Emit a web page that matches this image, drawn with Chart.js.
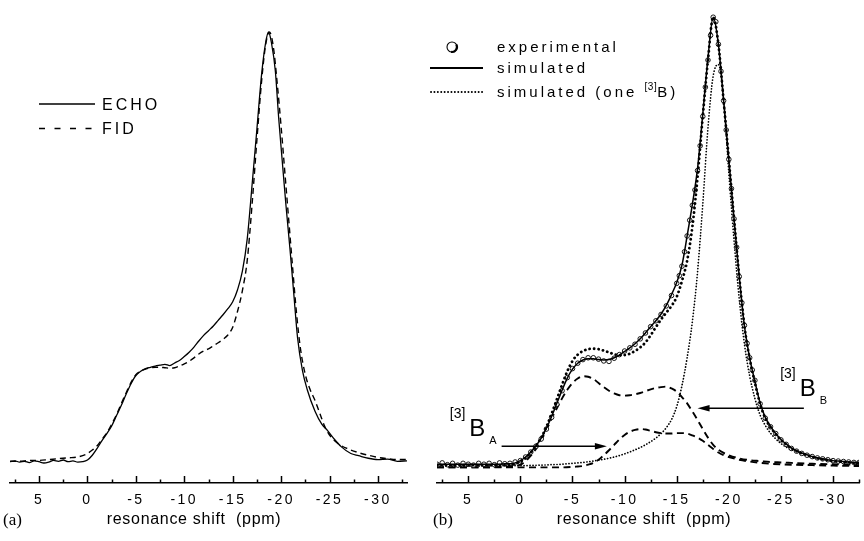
<!DOCTYPE html>
<html><head><meta charset="utf-8">
<script src="https://cdn.jsdelivr.net/npm/chart.js@4.4.1/dist/chart.umd.min.js"></script>
<style>
html,body{margin:0;padding:0;background:#fff;}
#wrap{position:relative;width:864px;height:541px;overflow:hidden;background:#fff;}
#ca{position:absolute;left:0;top:0;}
#cb{position:absolute;left:432px;top:0;}
#ov{position:absolute;left:0;top:0;pointer-events:none;}
</style></head><body>
<div id="wrap">
<canvas id="ca" width="432" height="541"></canvas>
<canvas id="cb" width="432" height="541"></canvas>
<svg id="ov" width="864" height="541" xmlns="http://www.w3.org/2000/svg" font-family="'Liberation Sans', Arial, sans-serif" fill="#000">
  <!-- legend (a) -->
  <line x1="39" y1="104" x2="95" y2="104" stroke="#000" stroke-width="1.3"/>
  <text x="102" y="110" font-size="16" letter-spacing="3">ECHO</text>
  <line x1="39" y1="128.5" x2="95" y2="128.5" stroke="#000" stroke-width="1.6" stroke-dasharray="6,9.5"/>
  <text x="102" y="134" font-size="16" letter-spacing="3">FID</text>
  <!-- legend (b) -->
  <circle cx="452" cy="47" r="5" fill="#fff" stroke="#000" stroke-width="1.1"/>
  <path d="M 456.3 44.5 A 5 5 0 0 1 451.1 51.9" fill="none" stroke="#000" stroke-width="2.2"/>
  <text x="497" y="52" font-size="15" letter-spacing="3">experimental</text>
  <line x1="430" y1="68" x2="483" y2="68" stroke="#000" stroke-width="2"/>
  <text x="497" y="73" font-size="15" letter-spacing="3">simulated</text>
  <line x1="431" y1="92" x2="483" y2="92" stroke="#000" stroke-width="1.9" stroke-dasharray="0.1,3.3" stroke-linecap="round"/>
  <text x="497" y="97" font-size="15" letter-spacing="3">simulated (one <tspan font-size="10" dy="-7" letter-spacing="0.5">[3]</tspan><tspan dy="7">B)</tspan></text>
  <!-- axis titles -->
  <text x="194" y="524" font-size="16" letter-spacing="0.7" text-anchor="middle" xml:space="preserve">resonance shift  (ppm)</text>
  <text x="644" y="524" font-size="16" letter-spacing="0.7" text-anchor="middle" xml:space="preserve">resonance shift  (ppm)</text>
  <text x="3" y="525" font-size="17" font-family="'Liberation Serif', 'Times New Roman', serif">(a)</text>
  <text x="433" y="525" font-size="17" font-family="'Liberation Serif', 'Times New Roman', serif">(b)</text>
</svg>
</div>
<script>
// ---------- axis ticks ----------
const TICKS_MAJOR = [5, 0, -5, -10, -15, -20, -25, -30];
const TICKS_MINOR = [7.5, 2.5, -2.5, -7.5, -12.5, -17.5, -22.5, -27.5, -32.5];

// ---------- panel (a) ----------
const PPM_ECHO = [8,7.5,7,6.5,6,5.5,5,4.5,4,3.5,3,2.5,2,1.5,1,0.5,0,-0.5,-1,-1.5,-2,-2.5,-3,-3.5,-4,-4.5,-5,-5.5,-6,-6.5,-7,-7.5,-8,-8.5,-9,-9.5,-10,-10.5,-11,-11.5,-12,-12.5,-13,-13.5,-14,-14.5,-15,-15.5,-16,-16.5,-17,-17.5,-18,-18.4,-18.7,-19,-19.4,-19.75,-20.1,-20.5,-20.9,-21.3,-21.7,-22.2,-22.7,-23.5,-24.2,-24.8,-25.5,-26.2,-27.2,-28,-29,-30,-31,-32,-33];
const ECHO = [0.003,0.005,0.002,0.004,0.001,0.005,0.003,0.000,0.002,0.006,0.004,0.007,0.003,0.005,0.002,0.003,0.007,0.018,0.034,0.052,0.068,0.086,0.110,0.134,0.160,0.184,0.203,0.213,0.219,0.222,0.225,0.227,0.229,0.226,0.232,0.238,0.247,0.257,0.269,0.283,0.296,0.307,0.318,0.331,0.344,0.358,0.374,0.402,0.445,0.520,0.645,0.775,0.905,0.975,1.000,0.975,0.910,0.800,0.705,0.598,0.500,0.395,0.290,0.215,0.170,0.120,0.090,0.075,0.055,0.038,0.022,0.017,0.011,0.008,0.009,0.004,0.005];
const PPM_FID = [8,7,6,5,4,3,2,1,0,-0.5,-1,-1.5,-2,-2.5,-3,-3.5,-4,-4.5,-5,-5.5,-6,-6.5,-7,-7.5,-8,-8.5,-9,-9.5,-10,-10.5,-11,-11.5,-12,-12.5,-13,-13.5,-14,-14.5,-15,-15.5,-16,-16.5,-17,-17.5,-18,-18.4,-18.8,-19.2,-19.6,-20,-20.4,-20.8,-21.2,-21.6,-22,-22.5,-23,-23.5,-24,-24.5,-25,-25.5,-26,-27,-28,-29,-30,-31,-32,-33];
const FID = [0.004,0.004,0.006,0.006,0.008,0.010,0.012,0.014,0.022,0.030,0.040,0.055,0.070,0.090,0.112,0.138,0.163,0.187,0.205,0.213,0.218,0.221,0.222,0.222,0.221,0.220,0.221,0.225,0.230,0.236,0.244,0.253,0.260,0.265,0.272,0.279,0.287,0.297,0.315,0.352,0.400,0.470,0.600,0.750,0.890,0.970,1.000,0.965,0.880,0.780,0.670,0.560,0.450,0.345,0.265,0.205,0.170,0.145,0.115,0.085,0.065,0.052,0.043,0.032,0.024,0.018,0.013,0.010,0.008,0.008];

// ---------- panel (b) ----------
const PPM_EXP = [8,7.5,7,6.5,6,5.5,5,4.5,4,3.5,3,2.5,2,1.5,1,0.5,0,-0.5,-1,-1.5,-2,-2.5,-3,-3.5,-4,-4.5,-5,-5.5,-6,-6.5,-7,-7.5,-8,-8.5,-9,-9.5,-10,-10.5,-11,-11.5,-12,-12.5,-13,-13.5,-14,-14.5,-15,
  -15.25,-15.5,-15.75,-16,-16.25,-16.5,-16.75,-17,-17.25,-17.5,-17.75,-18,-18.25,-18.5,-18.75,-19,-19.25,-19.5,-19.75,-20,-20.25,-20.5,-20.75,-21,-21.25,-21.5,-21.75,-22,-22.25,-22.5,
  -23,-23.5,-24,-24.5,-25,-25.5,-26,-26.5,-27,-27.5,-28,-28.5,-29,-29.5,-30,-30.5,-31,-31.5,-32,-32.5];
const EXP = [0.004,0.007,0.003,0.006,0.002,0.006,0.004,0.002,0.006,0.004,0.006,0.003,0.007,0.005,0.006,0.009,0.012,0.020,0.031,0.044,0.060,0.082,0.108,0.137,0.167,0.196,0.216,0.228,0.236,0.240,0.240,0.237,0.233,0.232,0.239,0.247,0.255,0.262,0.270,0.282,0.295,0.309,0.322,0.336,0.355,0.378,0.405,
  0.422,0.443,0.475,0.510,0.545,0.578,0.612,0.655,0.710,0.775,0.840,0.900,0.955,0.995,0.985,0.935,0.875,0.810,0.745,0.680,0.615,0.548,0.485,0.420,0.362,0.312,0.272,0.240,0.213,0.190,
  0.138,0.106,0.087,0.072,0.058,0.048,0.039,0.033,0.028,0.024,0.021,0.018,0.016,0.014,0.012,0.011,0.010,0.009,0.008,0.008];
const PPM_FIT = [8,7.5,7,6.5,6,5.5,5,4.5,4,3.5,3,2.5,2,1.5,1,0.5,0,-0.5,-1,-1.5,-2,-2.5,-3,-3.5,-4,-4.5,-5,-5.5,-6,-6.5,-7,-7.5,-8,-8.5,-9,-9.5,-10,-10.5,-11,-11.5,-12,-12.5,-13,-13.5,-14,-14.5,-15,-15.5,-16,-16.5,-17,-17.5,-18,-18.5,-19,-19.5,-20,-20.5,-21,-21.5,-22,-22.5,-23,-23.5,-24,-24.5,-25,-25.5,-26,-26.5,-27,-27.5,-28,-28.5,-29,-29.5,-30,-30.5,-31,-31.5,-32,-32.5];
const SIM = [0.004,0.004,0.004,0.004,0.004,0.004,0.004,0.004,0.004,0.004,0.004,0.004,0.004,0.005,0.005,0.007,0.012,0.020,0.031,0.045,0.062,0.084,0.110,0.139,0.168,0.195,0.215,0.228,0.235,0.238,0.238,0.236,0.235,0.236,0.240,0.246,0.254,0.262,0.271,0.282,0.295,0.309,0.322,0.337,0.356,0.380,0.407,0.445,0.510,0.580,0.660,0.780,0.905,0.995,0.935,0.810,0.680,0.548,0.420,0.310,0.240,0.188,0.140,0.108,0.088,0.072,0.059,0.049,0.040,0.034,0.029,0.025,0.021,0.018,0.016,0.014,0.012,0.011,0.010,0.009,0.008,0.008];
const ONE_3B = [0.002,0.002,0.002,0.002,0.002,0.002,0.002,0.002,0.002,0.002,0.002,0.002,0.002,0.002,0.002,0.005,0.010,0.018,0.030,0.045,0.063,0.087,0.116,0.148,0.180,0.210,0.233,0.247,0.255,0.259,0.260,0.259,0.256,0.252,0.248,0.246,0.246,0.249,0.255,0.263,0.274,0.290,0.308,0.325,0.340,0.355,0.375,0.410,0.455,0.530,0.640,0.775,0.900,0.995,0.935,0.810,0.680,0.548,0.420,0.310,0.238,0.185,0.138,0.106,0.086,0.071,0.058,0.048,0.039,0.033,0.028,0.024,0.020,0.017,0.015,0.013,0.011,0.010,0.009,0.008,0.007,0.007];
const PPM_SITE_B = [8,6,4,2,0,-2,-3,-4,-5,-6,-7,-8,-9,-10,-11,-12,-13,-13.5,-14,-14.5,-15,-15.5,-16,-16.5,-17,-17.5,-18,-18.5,-19,-19.5,-20,-20.5,-21,-21.5,-22,-22.5,-23,-23.5,-24,-25,-26,-27,-28,-29,-30,-31,-32.5];
const SITE_B = [0.000,0.000,0.000,0.001,0.001,0.002,0.003,0.004,0.006,0.008,0.011,0.015,0.020,0.027,0.036,0.047,0.062,0.072,0.085,0.103,0.132,0.178,0.240,0.320,0.430,0.580,0.750,0.865,0.890,0.815,0.650,0.500,0.370,0.270,0.200,0.150,0.113,0.090,0.073,0.050,0.036,0.027,0.020,0.015,0.012,0.009,0.006];
const PPM_SITE_A1 = [8,6,4,2,1,0.5,0,-0.5,-1,-1.5,-2,-2.5,-3,-3.5,-4,-4.5,-5,-5.5,-6,-6.5,-7,-7.5,-8,-8.5,-9,-9.5,-10,-10.5,-11,-11.5,-12,-12.5,-13,-13.5,-14,-14.5,-15,-15.5,-16,-16.5,-17,-17.5,-18,-18.5,-19,-19.5,-20,-21,-22,-23,-24,-25,-26,-28,-30,-32.5];
const SITE_A1 = [-0.003,-0.003,-0.003,-0.002,-0.001,0.000,0.003,0.011,0.023,0.038,0.057,0.080,0.105,0.128,0.150,0.169,0.184,0.194,0.199,0.198,0.193,0.184,0.175,0.167,0.161,0.157,0.156,0.157,0.159,0.162,0.166,0.170,0.173,0.175,0.176,0.172,0.165,0.153,0.139,0.121,0.102,0.082,0.063,0.047,0.036,0.029,0.024,0.017,0.013,0.011,0.009,0.008,0.007,0.005,0.004,0.003];
const PPM_SITE_A2 = [8,6,4,2,0,-2,-4,-5,-5.5,-6,-6.5,-7,-7.5,-8,-8.5,-9,-9.5,-10,-10.5,-11,-11.5,-12,-12.5,-13,-13.5,-14,-14.5,-15,-15.5,-16,-16.5,-17,-17.5,-18,-18.5,-19,-19.5,-20,-21,-22,-23,-24,-26,-28,-30,-32.5];
const SITE_A2 = [-0.003,-0.003,-0.003,-0.003,-0.003,-0.003,-0.003,-0.002,-0.001,0.000,0.003,0.007,0.014,0.024,0.035,0.047,0.059,0.069,0.076,0.080,0.082,0.081,0.078,0.075,0.073,0.072,0.072,0.073,0.073,0.072,0.068,0.063,0.056,0.047,0.038,0.030,0.024,0.020,0.014,0.010,0.007,0.005,0.003,0.002,0.001,0.000];

// annotations of panel (b): arrows [fromPpm, toPpm, intensity] and labels
const ARROWS_B = [[1.8, -8.3, 0.044], [-27.2, -17.0, 0.128]];
const LABELS_B = [{x: 4.9, y: 0.066, sup: '[3]', main: 'B', sub: 'A'}, {x: -26.8, y: 0.155, sup: '[3]', main: 'B', sub: 'B'}];

const FONT = "'Liberation Sans', Arial, sans-serif";
const pts = (xs, ys) => xs.map((x, i) => ({x, y: ys[i]}));

const inwardTicks = {
  id: 'inwardTicks',
  beforeDraw(chart) { chart.ctx.letterSpacing = '2.5px'; },
  afterDraw(chart) {
    const ctx = chart.ctx, sx = chart.scales.x, y0 = chart.chartArea.bottom;
    ctx.save();
    ctx.letterSpacing = '0px';
    ctx.strokeStyle = '#000'; ctx.lineWidth = 1.5;
    const tick = (v, len) => { const p = Math.round(sx.getPixelForValue(v)) + 0.5; ctx.beginPath(); ctx.moveTo(p, y0); ctx.lineTo(p, y0 - len); ctx.stroke(); };
    TICKS_MAJOR.forEach(v => tick(v, 7));
    TICKS_MINOR.forEach(v => tick(v, 3.5));
    ctx.restore();
  }
};

const annotB = {
  id: 'annotB',
  afterDatasetsDraw(chart) {
    const ctx = chart.ctx, sx = chart.scales.x, sy = chart.scales.y;
    ctx.save();
    ctx.letterSpacing = '0px';
    ctx.strokeStyle = '#000'; ctx.fillStyle = '#000'; ctx.lineWidth = 1.5;
    ARROWS_B.forEach(([a, b, v]) => {
      const x1 = sx.getPixelForValue(a), x2 = sx.getPixelForValue(b), y = sy.getPixelForValue(v);
      const dir = Math.sign(x2 - x1);
      ctx.beginPath(); ctx.moveTo(x1, y); ctx.lineTo(x2 - dir * 8, y); ctx.stroke();
      ctx.beginPath(); ctx.moveTo(x2, y); ctx.lineTo(x2 - dir * 12, y - 3.2); ctx.lineTo(x2 - dir * 12, y + 3.2); ctx.closePath(); ctx.fill();
    });
    ctx.textBaseline = 'alphabetic';
    LABELS_B.forEach(l => {
      const px = sx.getPixelForValue(l.x), py = sy.getPixelForValue(l.y);
      ctx.font = '24px ' + FONT; ctx.textAlign = 'left';
      ctx.fillText(l.main, px, py);
      const w = ctx.measureText(l.main).width;
      ctx.font = '14px ' + FONT; ctx.textAlign = 'right';
      ctx.fillText(l.sup, px - 4, py - 18);
      ctx.font = '11px ' + FONT; ctx.textAlign = 'left';
      ctx.fillText(l.sub, px + w + 4, py + 7.5);
    });
    ctx.restore();
  }
};

function xScale(min, max) {
  return {
    type: 'linear', reverse: true, min, max,
    afterFit(s) { s.height = 58; },
    grid: {display: false, drawTicks: false, drawOnChartArea: false},
    border: {display: true, color: '#000', width: 1.6},
    ticks: {stepSize: 5, includeBounds: false, autoSkip: false, maxRotation: 0, padding: 9, color: '#000',
      font: {family: FONT, size: 14}, callback: v => String(v)}
  };
}
const yScale = (min, max) => ({type: 'linear', display: false, min, max});
const common = (padding) => ({
  responsive: false, animation: false, events: [],
  layout: {padding},
  plugins: {legend: {display: false}, tooltip: {enabled: false}}
});
const line = (data, extra) => Object.assign({data, borderColor: '#000', pointRadius: 0, fill: false,
  cubicInterpolationMode: 'monotone', borderWidth: 1.3}, extra);

new Chart(document.getElementById('ca'), {
  type: 'line',
  data: {datasets: [
    line(pts(PPM_ECHO, ECHO), {label: 'ECHO', borderWidth: 1.3}),
    line(pts(PPM_FID, FID), {label: 'FID', borderWidth: 1.4, borderDash: [6, 4]})
  ]},
  options: Object.assign(common({left: 10, right: 25, top: 10, bottom: 0}), {
    scales: {x: xScale(-33, 8), y: yScale(-0.0464, 1.051)}
  }),
  plugins: [inwardTicks]
});

new Chart(document.getElementById('cb'), {
  type: 'line',
  data: {datasets: [
    line(pts(PPM_FIT, SIM), {label: 'simulated', borderWidth: 1.5}),
    line(pts(PPM_FIT, ONE_3B), {label: 'simulated (one [3]B)', borderWidth: 2.8, borderDash: [0.1, 4.4], borderCapStyle: 'round'}),
    {label: 'experimental', data: pts(PPM_EXP, EXP), showLine: false, pointRadius: 2.3, pointBorderWidth: 0.9,
      pointBorderColor: '#000', pointBackgroundColor: '#fff', borderColor: '#000'},
    line(pts(PPM_SITE_B, SITE_B), {label: 'site B', borderWidth: 1.7, borderDash: [0.1, 2.9], borderCapStyle: 'round'}),
    line(pts(PPM_SITE_A1, SITE_A1), {label: 'site A1', borderWidth: 1.9, borderDash: [7, 4.5]}),
    line(pts(PPM_SITE_A2, SITE_A2), {label: 'site A2', borderWidth: 1.9, borderDash: [7, 4.5]})
  ]},
  options: Object.assign(common({left: 5, right: 0, top: 5, bottom: 0}), {
    scales: {x: xScale(-32.5, 8), y: yScale(-0.0376, 1.0221)}
  }),
  plugins: [inwardTicks, annotB]
});
</script>
</body></html>
